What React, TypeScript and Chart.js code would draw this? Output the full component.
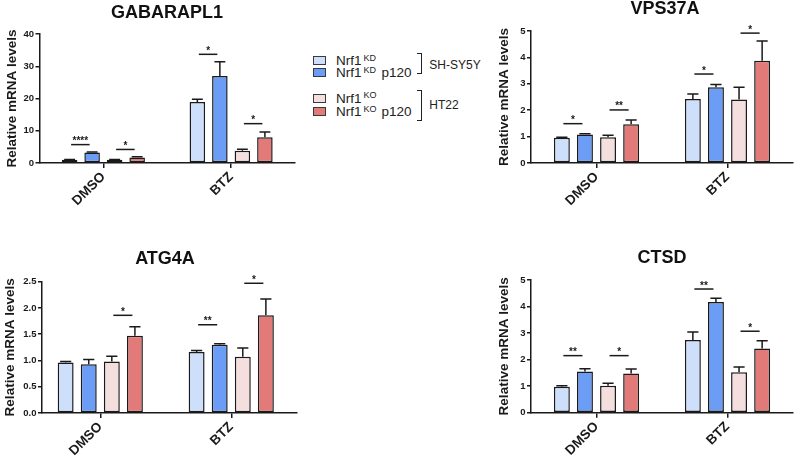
import React, { useEffect, useRef } from "react";
import { Chart, registerables } from "chart.js";

Chart.register(...registerables);

// ---------- data ----------
const GROUPS = ["DMSO", "BTZ"];
const SERIES = ["Nrf1KD", "Nrf1KD p120", "Nrf1KO", "Nrf1KO p120"];
const COLORS = ["#cddffa", "#6b9cf6", "#f5dede", "#e37a7a"];
const Y_TITLE = "Relative mRNA levels";

// GABARAPL1 (means per series over [DMSO, BTZ], and SEM)
const GABARAPL1_KD = [1.0, 18.9];
const GABARAPL1_KD_P120 = [3.25, 27.0];
const GABARAPL1_KO = [1.0, 3.8];
const GABARAPL1_KO_P120 = [1.7, 8.0];
const GABARAPL1_ERR_KD = [0.1, 0.9];
const GABARAPL1_ERR_KD_P120 = [0.15, 4.4];
const GABARAPL1_ERR_KO = [0.1, 0.5];
const GABARAPL1_ERR_KO_P120 = [0.25, 1.6];
const GABARAPL1_Y_TICKS = [0, 10, 20, 30, 40];
const GABARAPL1_SIG: [number, number, number, number, string][] = [
  [0, 0, 1, 5.7, "****"],
  [0, 2, 3, 4.2, "*"],
  [1, 0, 1, 33.7, "*"],
  [1, 2, 3, 12.2, "*"],
];

// VPS37A
const VPS37A_KD = [0.96, 2.42];
const VPS37A_KD_P120 = [1.08, 2.87];
const VPS37A_KO = [0.98, 2.41];
const VPS37A_KO_P120 = [1.47, 3.87];
const VPS37A_ERR_KD = [0.02, 0.19];
const VPS37A_ERR_KD_P120 = [0.03, 0.1];
const VPS37A_ERR_KO = [0.07, 0.46];
const VPS37A_ERR_KO_P120 = [0.16, 0.75];
const VPS37A_Y_TICKS = [0, 1, 2, 3, 4, 5];
const VPS37A_SIG: [number, number, number, number, string][] = [
  [0, 0, 1, 1.49, "*"],
  [0, 2, 3, 2.01, "**"],
  [1, 0, 1, 3.37, "*"],
  [1, 2, 3, 4.92, "*"],
];

// ATG4A
const ATG4A_KD = [0.96, 1.16];
const ATG4A_KD_P120 = [0.93, 1.3];
const ATG4A_KO = [0.98, 1.07];
const ATG4A_KO_P120 = [1.47, 1.86];
const ATG4A_ERR_KD = [0.02, 0.03];
const ATG4A_ERR_KD_P120 = [0.09, 0.02];
const ATG4A_ERR_KO = [0.1, 0.17];
const ATG4A_ERR_KO_P120 = [0.17, 0.31];
const ATG4A_Y_TICKS = [0, 0.5, 1.0, 1.5, 2.0, 2.5];
const ATG4A_SIG: [number, number, number, number, string][] = [
  [0, 2, 3, 1.86, "*"],
  [1, 0, 1, 1.68, "**"],
  [1, 2, 3, 2.47, "*"],
];

// CTSD
const CTSD_KD = [0.98, 2.74];
const CTSD_KD_P120 = [1.55, 4.17];
const CTSD_KO = [1.02, 1.52];
const CTSD_KO_P120 = [1.48, 2.42];
const CTSD_ERR_KD = [0.04, 0.3];
const CTSD_ERR_KD_P120 = [0.11, 0.14];
const CTSD_ERR_KO = [0.09, 0.2];
const CTSD_ERR_KO_P120 = [0.17, 0.29];
const CTSD_Y_TICKS = [0, 1, 2, 3, 4, 5];
const CTSD_SIG: [number, number, number, number, string][] = [
  [0, 0, 1, 2.15, "**"],
  [0, 2, 3, 2.15, "*"],
  [1, 0, 1, 4.66, "**"],
  [1, 2, 3, 3.07, "*"],
];

// ---------- style ----------
const FONT = "'Liberation Sans', Arial, Helvetica, sans-serif";
const INK = "#1a1a1a";

type PanelCfg = {
  title: string;
  means: number[][];
  errs: number[][];
  sig: [number, number, number, number, string][];
  yTicks: number[];
  decimals: number;
  box: { x: number; y: number; w: number; h: number };
  area: { l: number; r: number; t: number; b: number };
  padL: number;
  padR: number;
  titlePos: { x: number; y: number };
  yTitleX: number;
};

const PANELS: PanelCfg[] = [
  {
    title: "GABARAPL1",
    means: [GABARAPL1_KD, GABARAPL1_KD_P120, GABARAPL1_KO, GABARAPL1_KO_P120],
    errs: [GABARAPL1_ERR_KD, GABARAPL1_ERR_KD_P120, GABARAPL1_ERR_KO, GABARAPL1_ERR_KO_P120],
    sig: GABARAPL1_SIG,
    yTicks: GABARAPL1_Y_TICKS,
    decimals: 0,
    box: { x: 0, y: 0, w: 300, h: 228 },
    area: { l: 39.5, r: 295, t: 34, b: 163 },
    padL: 0.5,
    padR: 0.5,
    titlePos: { x: 167, y: 12 },
    yTitleX: 12,
  },
  {
    title: "VPS37A",
    means: [VPS37A_KD, VPS37A_KD_P120, VPS37A_KO, VPS37A_KO_P120],
    errs: [VPS37A_ERR_KD, VPS37A_ERR_KD_P120, VPS37A_ERR_KO, VPS37A_ERR_KO_P120],
    sig: VPS37A_SIG,
    yTicks: VPS37A_Y_TICKS,
    decimals: 0,
    box: { x: 490, y: 0, w: 305, h: 228 },
    area: { l: 531, r: 793, t: 31, b: 163 },
    padL: 0.5,
    padR: 0.5,
    titlePos: { x: 665, y: 8.5 },
    yTitleX: 504,
  },
  {
    title: "ATG4A",
    means: [ATG4A_KD, ATG4A_KD_P120, ATG4A_KO, ATG4A_KO_P120],
    errs: [ATG4A_ERR_KD, ATG4A_ERR_KD_P120, ATG4A_ERR_KO, ATG4A_ERR_KO_P120],
    sig: ATG4A_SIG,
    yTicks: ATG4A_Y_TICKS,
    decimals: 1,
    box: { x: 0, y: 236, w: 300, h: 223 },
    area: { l: 42, r: 297, t: 281.7, b: 413 },
    padL: 0.445,
    padR: 0.502,
    titlePos: { x: 165, y: 258 },
    yTitleX: 10,
  },
  {
    title: "CTSD",
    means: [CTSD_KD, CTSD_KD_P120, CTSD_KO, CTSD_KO_P120],
    errs: [CTSD_ERR_KD, CTSD_ERR_KD_P120, CTSD_ERR_KO, CTSD_ERR_KO_P120],
    sig: CTSD_SIG,
    yTicks: CTSD_Y_TICKS,
    decimals: 0,
    box: { x: 490, y: 236, w: 305, h: 223 },
    area: { l: 531, r: 793, t: 280, b: 412.7 },
    padL: 0.5,
    padR: 0.5,
    titlePos: { x: 662, y: 257 },
    yTitleX: 504,
  },
];

function Panel({ cfg }: { cfg: PanelCfg }) {
  const ref = useRef<HTMLCanvasElement>(null);

  useEffect(() => {
    const { box, area } = cfg;
    const yTitleLine = 13.5 * 1.2;
    const yTitlePad = Math.max(0, cfg.yTitleX - box.x - yTitleLine / 2);

    const annot = {
      id: "annot",
      afterDatasetsDraw(chart: any) {
        const ctx = chart.ctx as CanvasRenderingContext2D;
        const ys = chart.scales.y;
        ctx.save();
        ctx.strokeStyle = INK;
        ctx.fillStyle = INK;
        ctx.lineWidth = 1.5;
        // error bars (upper only)
        cfg.errs.forEach((errArr, di) => {
          const meta = chart.getDatasetMeta(di);
          meta.data.forEach((bar: any, j: number) => {
            const top = ys.getPixelForValue(cfg.means[di][j]);
            const e = ys.getPixelForValue(cfg.means[di][j] + errArr[j]);
            const half = bar.width * 0.35;
            ctx.beginPath();
            ctx.moveTo(bar.x, top);
            ctx.lineTo(bar.x, e);
            ctx.moveTo(bar.x - half, e);
            ctx.lineTo(bar.x + half, e);
            ctx.stroke();
          });
        });
        // significance
        ctx.font = `bold 10px ${FONT}`;
        ctx.textAlign = "center";
        ctx.textBaseline = "alphabetic";
        cfg.sig.forEach(([g, a, b, v, label]) => {
          const ba = chart.getDatasetMeta(a).data[g];
          const bb = chart.getDatasetMeta(b).data[g];
          const py = ys.getPixelForValue(v);
          const x1 = ba.x + 1.5;
          const x2 = bb.x - 2.5;
          ctx.beginPath();
          ctx.moveTo(x1, py);
          ctx.lineTo(x2, py);
          ctx.stroke();
          ctx.fillText(label, (x1 + x2) / 2, py - 0.5);
        });
        // panel title
        ctx.font = `bold 18px ${FONT}`;
        ctx.textBaseline = "middle";
        ctx.fillStyle = "#111";
        ctx.fillText(cfg.title, cfg.titlePos.x - box.x, cfg.titlePos.y - box.y + 1);
        ctx.restore();
      },
    };

    const chart = new Chart(ref.current as HTMLCanvasElement, {
      type: "bar",
      data: {
        datasets: SERIES.map((name, i) => ({
          label: name,
          data: GROUPS.map((_, j) => ({ x: j, y: cfg.means[i][j] })),
          backgroundColor: COLORS[i],
          borderColor: INK,
          borderWidth: 1.5,
          borderSkipped: false,
          categoryPercentage: 0.705,
          barPercentage: 0.69,
        })),
      } as any,
      options: {
        responsive: false,
        animation: false,
        events: [],
        layout: {
          padding: {
            left: 0,
            top: area.t - box.y,
            right: box.x + box.w - area.r,
            bottom: 0,
          },
        },
        plugins: {
          legend: { display: false },
          tooltip: { enabled: false },
          title: { display: false },
        },
        scales: {
          x: {
            type: "linear",
            min: -cfg.padL,
            max: 1 + cfg.padR,
            offset: false,
            bounds: "data",
            afterBuildTicks: (s: any) => {
              s.ticks = GROUPS.map((_, j) => ({ value: j }));
            },
            afterFit: (s: any) => {
              s.height = box.y + box.h - area.b;
            },
            ticks: {
              autoSkip: false,
              minRotation: 45,
              maxRotation: 45,
              color: INK,
              padding: 1,
              font: { family: FONT, size: 13.5, weight: "bold" },
              callback: (_v: any, i: number) => GROUPS[i],
            },
            grid: {
              display: true,
              drawOnChartArea: false,
              drawTicks: true,
              tickLength: 5,
              color: INK,
              lineWidth: 1.5,
              offset: false,
            },
            border: { display: true, color: INK, width: 1.5 },
          },
          y: {
            type: "linear",
            min: cfg.yTicks[0],
            max: cfg.yTicks[cfg.yTicks.length - 1],
            afterBuildTicks: (s: any) => {
              s.ticks = cfg.yTicks.map((v) => ({ value: v }));
            },
            afterFit: (s: any) => {
              s.width = area.l - box.x;
            },
            ticks: {
              color: INK,
              padding: 1.5,
              font: { family: FONT, size: 9.5, weight: "bold" },
              callback: (v: any) => Number(v).toFixed(cfg.decimals),
            },
            grid: {
              display: true,
              drawOnChartArea: false,
              drawTicks: true,
              tickLength: 4,
              color: INK,
              lineWidth: 1.5,
            },
            border: { display: true, color: INK, width: 1.5 },
            title: {
              display: true,
              text: Y_TITLE,
              color: INK,
              font: { family: FONT, size: 13.5, weight: "bold", lineHeight: 1.2 },
              padding: { top: yTitlePad, bottom: 0 },
            },
          },
        },
      } as any,
      plugins: [annot],
    });
    return () => chart.destroy();
  }, [cfg]);

  const { box } = cfg;
  return (
    <canvas
      ref={ref}
      width={box.w}
      height={box.h}
      style={{ position: "absolute", left: box.x, top: box.y, width: box.w, height: box.h }}
    />
  );
}

// ---------- legend ----------
const LEGEND_SUP = ["KD", "KD", "KO", "KO"];
const LEGEND_SUFFIX = ["", "p120", "", "p120"];
const LEGEND_BASELINES = [65.5, 77.5, 103, 116.5];
const BRACKET_LABELS = ["SH-SY5Y", "HT22"];
const BRACKET_SPANS = [
  [52.7, 74.3],
  [90, 121],
];
const BRACKET_BASELINES = [69.3, 109];

function Legend() {
  const fs = 13.5;
  const sfs = 9;
  const asc = 0.8465; // baseline offset of a line box with line-height 1
  return (
    <>
      {SERIES.map((name, i) => {
        const bl = LEGEND_BASELINES[i];
        return (
          <React.Fragment key={name}>
            <div
              style={{
                position: "absolute",
                left: 313,
                top: bl - 9.5,
                width: 13,
                height: 9,
                boxSizing: "border-box",
                background: COLORS[i],
                border: "1px solid #3a3a3a",
              }}
            />
            <span
              style={{
                position: "absolute",
                left: 336,
                top: bl - asc * fs,
                fontFamily: FONT,
                fontSize: fs,
                lineHeight: 1,
                color: "#222",
                whiteSpace: "nowrap",
              }}
            >
              Nrf1
            </span>
            <span
              style={{
                position: "absolute",
                left: 363.5,
                top: bl - 4.3 - asc * sfs,
                fontFamily: FONT,
                fontSize: sfs,
                lineHeight: 1,
                color: "#222",
                whiteSpace: "nowrap",
              }}
            >
              {LEGEND_SUP[i]}
            </span>
            {LEGEND_SUFFIX[i] && (
              <span
                style={{
                  position: "absolute",
                  left: 381.5,
                  top: bl - asc * fs,
                  fontFamily: FONT,
                  fontSize: fs,
                  lineHeight: 1,
                  color: "#222",
                  whiteSpace: "nowrap",
                }}
              >
                {LEGEND_SUFFIX[i]}
              </span>
            )}
          </React.Fragment>
        );
      })}
      {BRACKET_LABELS.map((label, k) => (
        <React.Fragment key={label}>
          <div
            style={{
              position: "absolute",
              left: 416.5,
              top: BRACKET_SPANS[k][0],
              width: 5.5,
              height: BRACKET_SPANS[k][1] - BRACKET_SPANS[k][0],
              boxSizing: "border-box",
              borderTop: "1.5px solid #222",
              borderRight: "1.5px solid #222",
              borderBottom: "1.5px solid #222",
            }}
          />
          <span
            style={{
              position: "absolute",
              left: 429.3,
              top: BRACKET_BASELINES[k] - asc * 12,
              fontFamily: FONT,
              fontSize: 12,
              lineHeight: 1,
              color: "#222",
              whiteSpace: "nowrap",
            }}
          >
            {label}
          </span>
        </React.Fragment>
      ))}
    </>
  );
}

export default function App() {
  return (
    <div
      style={{
        position: "absolute",
        left: 0,
        top: 0,
        width: 795,
        height: 459,
        background: "#fff",
        overflow: "hidden",
      }}
    >
      {PANELS.map((p) => (
        <Panel key={p.title} cfg={p} />
      ))}
      <Legend />
    </div>
  );
}
